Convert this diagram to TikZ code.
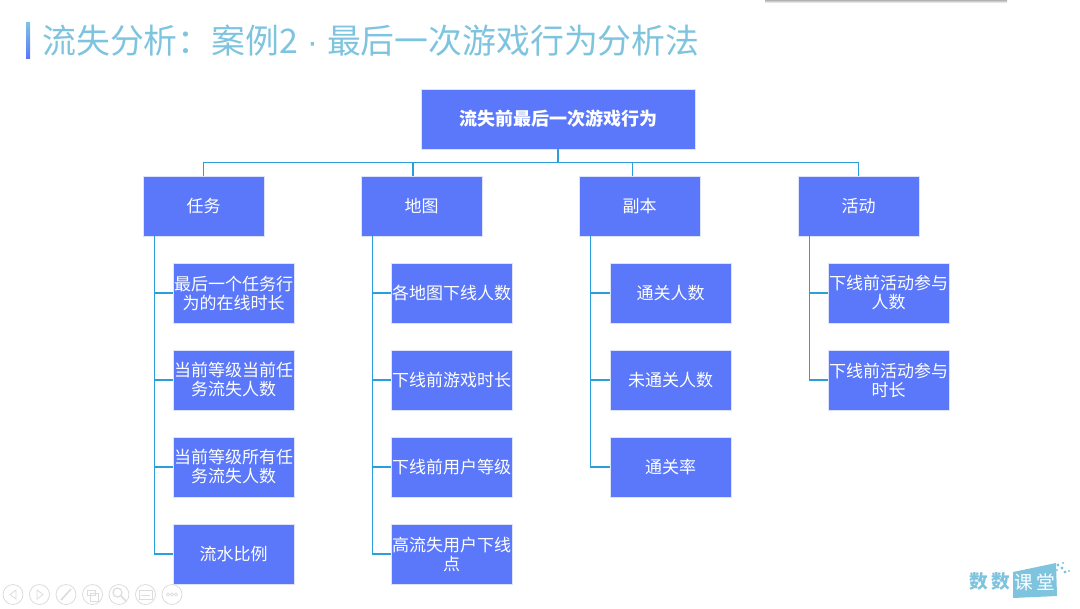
\documentclass[tikz,border=0pt]{standalone}
\usepackage{fontspec}
\setmainfont{Noto Sans CJK SC}
\newfontfamily\latinfont{Liberation Sans}
\usetikzlibrary{positioning, calc}
\definecolor{boxblue}{HTML}{5B78FB}
\definecolor{boxedge}{HTML}{DDE3FC}
\definecolor{linkblue}{HTML}{2A9FDC}
\definecolor{titleblue}{HTML}{7EC4DF}
\definecolor{navgray}{HTML}{DCDCDC}
\tikzstyle{rootbox}=[
  rectangle,
  minimum width=205.5pt,
  minimum height=45pt,
  inner sep=0pt,
  fill=boxblue,
  draw=boxedge,
  text=white,
  font={\fontsize{13.5pt}{15pt}\selectfont\bfseries}
]
\tikzstyle{groupbox}=[
  rectangle,
  minimum width=90.75pt,
  minimum height=45pt,
  inner sep=0pt,
  fill=boxblue,
  draw=boxedge,
  text=white,
  align=center,
  font={\fontsize{12.75pt}{14.25pt}\selectfont}
]
\tikzstyle{link}=[draw=linkblue, line width=0.8pt]
\tikzstyle{navbtn}=[circle, minimum size=15pt, inner sep=0pt, draw=navgray, line width=0.6pt]
\tikzstyle{navmark}=[draw=navgray, line width=0.6pt]

\begin{document}
\begin{tikzpicture}[x=0.75pt, y=-0.75pt]

\newcommand\TRUNK{8.7pt}

\useasboundingbox (0,0) rectangle (1080,608);

%% title
\shade[top color=titleblue, bottom color=boxblue] (26,22) rectangle (30,58);
\node[anchor=west, inner sep=0pt, text=titleblue, font={\fontsize{25.4pt}{27pt}\selectfont}] (title) at (42,41) {流失分析：案例2\hspace{6.6pt}{\latinfont ·}\hspace{6.6pt}最后一次游戏行为分析法};

%% top edge
\shade[top color=black!30, bottom color=white] (765,0) rectangle (1007,3);

%% boxes
\node[rootbox] (root) at (558,119) {流失前最后一次游戏行为};

\node[groupbox] (task) at (203.5,206) {任务};
\node[groupbox] (map) at (421.5,206) {地图};
\node[groupbox] (dungeon) at (639.5,206) {副本};
\node[groupbox] (event) at (858.5,206) {活动};

\node[groupbox] (taskA) at (233.5,293) {最后一个任务行\\为的在线时长};
\node[groupbox] (taskB) at (233.5,380) {当前等级当前任\\务流失人数};
\node[groupbox] (taskC) at (233.5,467) {当前等级所有任\\务流失人数};
\node[groupbox] (taskD) at (233.5,554) {流水比例};

\node[groupbox] (mapA) at (451.5,293) {各地图下线人数};
\node[groupbox] (mapB) at (451.5,380) {下线前游戏时长};
\node[groupbox] (mapC) at (451.5,467) {下线前用户等级};
\node[groupbox] (mapD) at (451.5,554) {高流失用户下线\\点};

\node[groupbox] (dungeonA) at (670.5,293) {通关人数};
\node[groupbox] (dungeonB) at (670.5,380) {未通关人数};
\node[groupbox] (dungeonC) at (670.5,467) {通关率};

\node[groupbox] (eventA) at (888.5,293) {下线前活动参与\\人数};
\node[groupbox] (eventB) at (888.5,380) {下线前活动参与\\时长};

%% root to groups
\draw[link] (root.south) -- ++(0,13) -| (task.north);
\draw[link] (root.south) -- ++(0,13) -| ([xshift=-6.4pt]map.north);
\draw[link] (root.south) -- ++(0,13) -| ([xshift=-5.6pt]dungeon.north);
\draw[link] (root.south) -- ++(0,13) -| (event.north);

%% groups to leaves
\draw[link] ([xshift=\TRUNK]task.south west) |- (taskA.west);
\draw[link] ([xshift=\TRUNK]task.south west) |- (taskB.west);
\draw[link] ([xshift=\TRUNK]task.south west) |- (taskC.west);
\draw[link] ([xshift=\TRUNK]task.south west) |- (taskD.west);

\draw[link] ([xshift=\TRUNK]map.south west) |- (mapA.west);
\draw[link] ([xshift=\TRUNK]map.south west) |- (mapB.west);
\draw[link] ([xshift=\TRUNK]map.south west) |- (mapC.west);
\draw[link] ([xshift=\TRUNK]map.south west) |- (mapD.west);

\draw[link] ([xshift=\TRUNK]dungeon.south west) |- (dungeonA.west);
\draw[link] ([xshift=\TRUNK]dungeon.south west) |- (dungeonB.west);
\draw[link] ([xshift=\TRUNK]dungeon.south west) |- (dungeonC.west);

\draw[link] ([xshift=\TRUNK]event.south west) |- (eventA.west);
\draw[link] ([xshift=\TRUNK]event.south west) |- (eventB.west);

%% slide buttons
\node[navbtn] (navA) at (13,594.5) {};
\node[navbtn] (navB) at (39.5,594.5) {};
\node[navbtn] (navC) at (66,594.5) {};
\node[navbtn] (navD) at (92.5,594.5) {};
\node[navbtn] (navE) at (119,594.5) {};
\node[navbtn] (navF) at (145.5,594.5) {};
\node[navbtn] (navG) at (172,594.5) {};

\draw[navmark] (16,590) -- (10,594.5) -- (16,599) -- cycle;
\draw[navmark] (37,590) -- (43,594.5) -- (37,599) -- cycle;
\draw[navmark, line width=1.2pt] (61,600) -- (71,589);
\draw[navmark] (87,590) rectangle (95,595);
\draw[navmark] (90,593) rectangle (98,601);
\draw[navmark, line width=0.9pt] (117.5,592.5) circle (4.5);
\draw[navmark, line width=1.2pt] (121,596) -- (126,601);
\draw[navmark] (139,590) rectangle (152,599);
\draw[navmark] (141,595.5) -- (150,595.5);
\draw[navmark] (168,594.5) circle (1.6);
\draw[navmark] (172,594.5) circle (1.6);
\draw[navmark] (176,594.5) circle (1.6);

%% logo
\fill[titleblue] (1013,572) -- (1056,563) -- (1057,596) -- (1013,598) -- cycle;
\node[text=titleblue, inner sep=0pt, font={\fontsize{14pt}{15pt}\selectfont\bfseries}] (logoA) at (990,581) {数\,数};
\node[text=white, inner sep=0pt, font={\fontsize{14pt}{15pt}\selectfont}] (logoB) at (1034.5,582) {课\,堂};
\fill[titleblue] (1058,565) circle (1.6);
\fill[titleblue] (1063,563) circle (1.1);
\fill[titleblue] (1062,568) circle (1.6);
\fill[titleblue] (1065,572) circle (1.6);
\fill[titleblue] (1069,571) circle (1.1);
\fill[titleblue] (1057,570) circle (1.1);

\end{tikzpicture}
\end{document}
